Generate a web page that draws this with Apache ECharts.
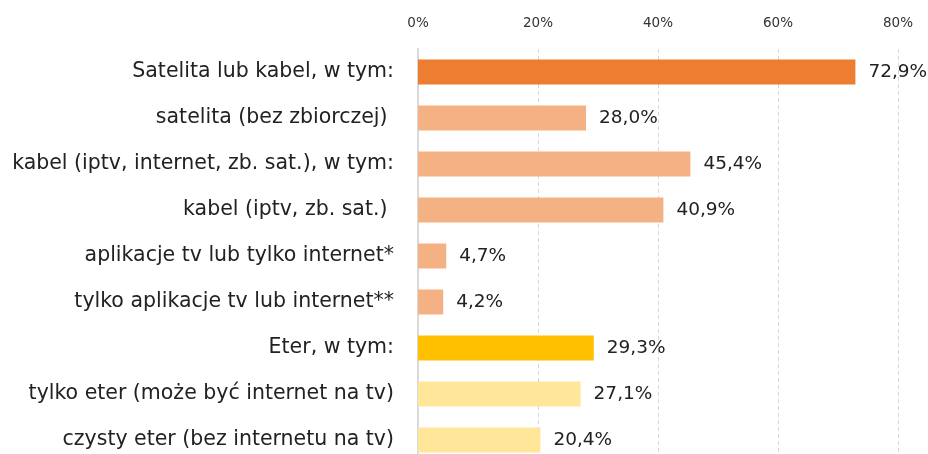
<!DOCTYPE html>
<html>
<head>
<meta charset="utf-8">
<script src="https://cdn.jsdelivr.net/npm/echarts@6/dist/echarts.min.js"></script>
<style>
  html, body { margin: 0; padding: 0; background: #fff; }
  #chart { width: 928px; height: 454px; }
</style>
</head>
<body>
<div id="chart"></div>
<script>
// Sposób odbioru telewizji – udział gospodarstw domowych (%)
const categories = [
  'Satelita lub kabel, w tym:',
  'satelita (bez zbiorczej) ',
  'kabel (iptv, internet, zb. sat.), w tym:',
  'kabel (iptv, zb. sat.) ',
  'aplikacje tv lub tylko internet*',
  'tylko aplikacje tv lub internet**',
  'Eter, w tym:',
  'tylko eter (może być internet na tv)',
  'czysty eter (bez internetu na tv)'
];
const values = [72.9, 28.0, 45.4, 40.9, 4.7, 4.2, 29.3, 27.1, 20.4];
const barColors = ['#ED7D31', '#F4B183', '#F4B183', '#F4B183', '#F4B183', '#F4B183', '#FFC000', '#FFE699', '#FFE699'];
const axisTicks = [0, 20, 40, 60, 80];

const FONT = '"DejaVu Sans", "Open Sans", sans-serif';

const chart = echarts.init(document.getElementById('chart'), null, { renderer: 'canvas' });
chart.setOption({
  animation: false,
  textStyle: { fontFamily: FONT },
  grid: { left: 418, top: 49, width: 480, height: 414, outerBoundsMode: 'none', containLabel: false },
  xAxis: {
    type: 'value',
    position: 'top',
    min: axisTicks[0],
    max: axisTicks[axisTicks.length - 1],
    interval: axisTicks[1] - axisTicks[0],
    axisLine: { show: false },
    axisTick: { show: false },
    axisLabel: { formatter: '{value}%', color: '#333', fontSize: 13.5, margin: 19, fontFamily: FONT },
    splitLine: { show: true, lineStyle: { color: '#d9d9d9', type: [4, 3], width: 1 } }
  },
  yAxis: {
    type: 'category',
    inverse: true,
    data: categories,
    axisLine: { show: true, lineStyle: { color: '#d9d9d9', width: 2 } },
    axisTick: { show: false },
    axisLabel: { color: '#222', fontSize: 20.5, margin: 24, fontFamily: FONT }
  },
  series: [{
    type: 'bar',
    barWidth: 25,
    data: values.map((v, i) => ({ value: v, itemStyle: { color: barColors[i] } })),
    label: {
      show: true,
      position: 'right',
      distance: 13,
      color: '#222',
      fontSize: 18.5,
      fontFamily: FONT,
      formatter: p => p.value.toFixed(1).replace('.', ',') + '%'
    }
  }]
});
</script>
</body>
</html>
